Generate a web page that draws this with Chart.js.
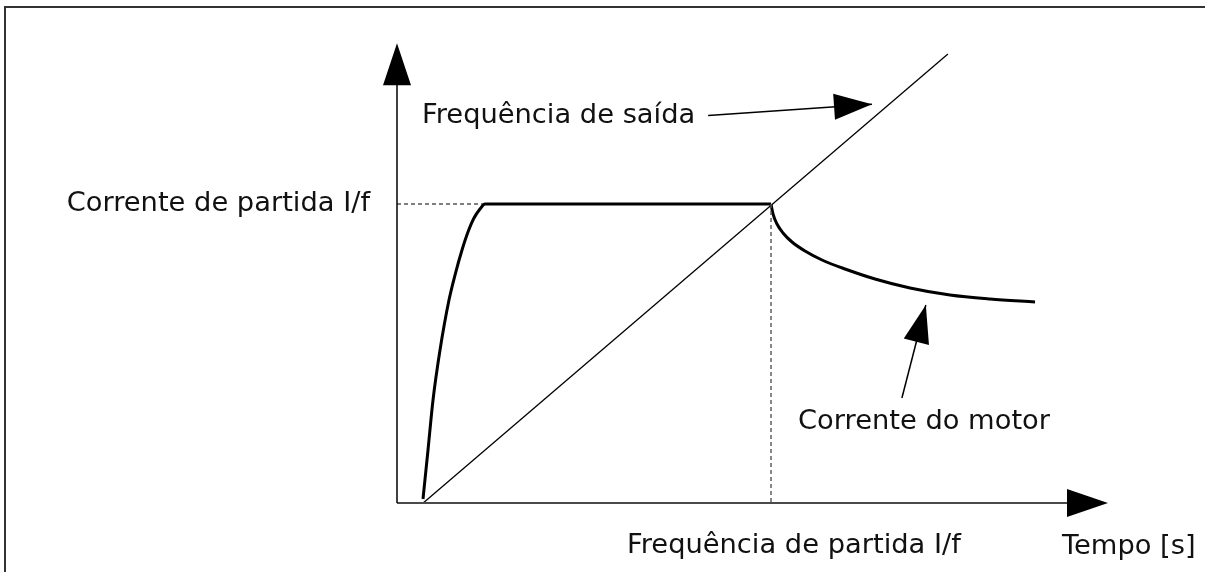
<!DOCTYPE html>
<html>
<head>
<meta charset="utf-8">
<script src="https://cdn.jsdelivr.net/npm/chart.js@4/dist/chart.umd.min.js"></script>
<style>
	html, body { margin: 0; padding: 0; background: #fff; }
	#wrap { width: 1205px; height: 572px; position: relative; }
</style>
</head>
<body>
<div id="wrap"><canvas id="chart" width="1205" height="572"></canvas></div>
<script>
/* valores do esquema (unidades: frequencia de partida = 10, corrente de partida = 10) */
const startFreq = 10;
const startCurrent = 10;

const outputFreqX = [0.7, 14.73];
const outputFreqY = [0, 15.02];

/* subida da corrente + patamar ate a frequencia de partida */
const riseX = [0.695, 0.829, 0.963, 1.150, 1.390, 1.551, 1.738, 1.898, 2.059, 2.219, 2.353, 10.0];
const riseY = [0.134, 1.773, 3.445, 5.117, 6.789, 7.625, 8.462, 9.064, 9.532, 9.833, 10.0, 10.0];

/* queda da corrente depois da frequencia de partida */
const decayX = [10.0, 10.053, 10.160, 10.321, 10.561, 10.909, 11.364, 11.979, 12.781, 13.717, 14.786, 15.856, 17.059];
const decayY = [10.0, 9.666, 9.331, 9.030, 8.729, 8.428, 8.127, 7.826, 7.492, 7.191, 6.957, 6.823, 6.722];

const yAxisTop = 15.38;
const xAxisEnd = 19.01;

const labelTexts = [
	"Corrente de partida I/f",
	"Frequência de saída",
	"Corrente do motor",
	"Frequência de partida I/f",
	"Tempo [s]"
];

const toPoints = (xs, ys) => xs.map((x, i) => ({ x: x, y: ys[i] }));

const lineSet = (data, width, color, extra = {}) => Object.assign({
	data: data,
	showLine: true,
	borderColor: color,
	borderWidth: width,
	pointRadius: 0,
	fill: false
}, extra);

const drawHead = (ctx, tail, tip, len, half) => {
	const ang = Math.atan2(tip.y - tail.y, tip.x - tail.x);
	const bx = tip.x - Math.cos(ang) * len;
	const by = tip.y - Math.sin(ang) * len;
	const nx = -Math.sin(ang) * half;
	const ny = Math.cos(ang) * half;
	ctx.beginPath();
	ctx.moveTo(tip.x, tip.y);
	ctx.lineTo(bx + nx, by + ny);
	ctx.lineTo(bx - nx, by - ny);
	ctx.closePath();
	ctx.fill();
};

const decorPlugin = {
	id: "decor",
	afterDatasetsDraw(chart) {
		const ctx = chart.ctx;
		const xs = chart.scales.x;
		const ys = chart.scales.y;
		const px = (x, y) => ({ x: xs.getPixelForValue(x), y: ys.getPixelForValue(y) });

		ctx.save();

		/* moldura */
		ctx.strokeStyle = "#333";
		ctx.lineWidth = 2;
		ctx.beginPath();
		ctx.moveTo(5, 572);
		ctx.lineTo(5, 7);
		ctx.lineTo(1205, 7);
		ctx.stroke();

		ctx.fillStyle = "#000";

		/* setas dos eixos */
		drawHead(ctx, px(0, 0), px(0, yAxisTop), 42, 14);
		drawHead(ctx, px(0, 0), px(xAxisEnd, 0), 41, 14);

		/* setas das legendas */
		const arrows = [
			[px(8.32, 12.96), px(12.70, 13.34)],
			[px(13.50, 3.51), px(14.14, 6.62)]
		];
		ctx.strokeStyle = "#000";
		ctx.lineWidth = 1.5;
		arrows.forEach(([a, b]) => {
			ctx.beginPath();
			ctx.moveTo(a.x, a.y);
			ctx.lineTo(b.x, b.y);
			ctx.stroke();
			drawHead(ctx, a, b, 38, 13);
		});

		/* textos */
		const o = px(0, 0);
		const c = px(startFreq, startCurrent);
		ctx.fillStyle = "#111";
		ctx.font = "27.3px 'DejaVu Sans', Verdana, sans-serif";
		ctx.textBaseline = "alphabetic";

		ctx.textAlign = "right";
		ctx.fillText(labelTexts[0], o.x - 27, c.y + 7);

		ctx.textAlign = "left";
		ctx.fillText(labelTexts[1], o.x + 25, 123);
		ctx.fillText(labelTexts[2], c.x + 27, o.y - 74);
		ctx.fillText(labelTexts[3], c.x - 144, o.y + 50);
		ctx.fillText(labelTexts[4], 1062, o.y + 51);

		ctx.restore();
	}
};

new Chart(document.getElementById("chart"), {
	type: "scatter",
	data: {
		datasets: [
			lineSet([{ x: 0, y: 0 }, { x: 0, y: yAxisTop - 1 }], 1.5, "#000"),
			lineSet([{ x: 0, y: 0 }, { x: xAxisEnd - 1, y: 0 }], 2, "#4a4a4a"),
			lineSet([{ x: 0, y: startCurrent }, { x: 2.353, y: startCurrent }], 1, "#000", { borderDash: [4, 3] }),
			lineSet([{ x: startFreq, y: startCurrent }, { x: startFreq, y: 0 }], 1.4, "#555", { borderDash: [4, 3] }),
			lineSet(toPoints(outputFreqX, outputFreqY), 1.3, "#000"),
			lineSet(toPoints(riseX, riseY), 3, "#000", { cubicInterpolationMode: "monotone" }),
			lineSet(toPoints(decayX, decayY), 3, "#000", { cubicInterpolationMode: "monotone" })
		]
	},
	options: {
		responsive: false,
		animation: false,
		layout: { padding: 0 },
		plugins: {
			legend: { display: false },
			tooltip: { enabled: false }
		},
		scales: {
			x: { type: "linear", display: false, min: -10.615, max: 21.604 },
			y: { type: "linear", display: false, min: -2.308, max: 16.823 }
		}
	},
	plugins: [decorPlugin]
});
</script>
</body>
</html>
